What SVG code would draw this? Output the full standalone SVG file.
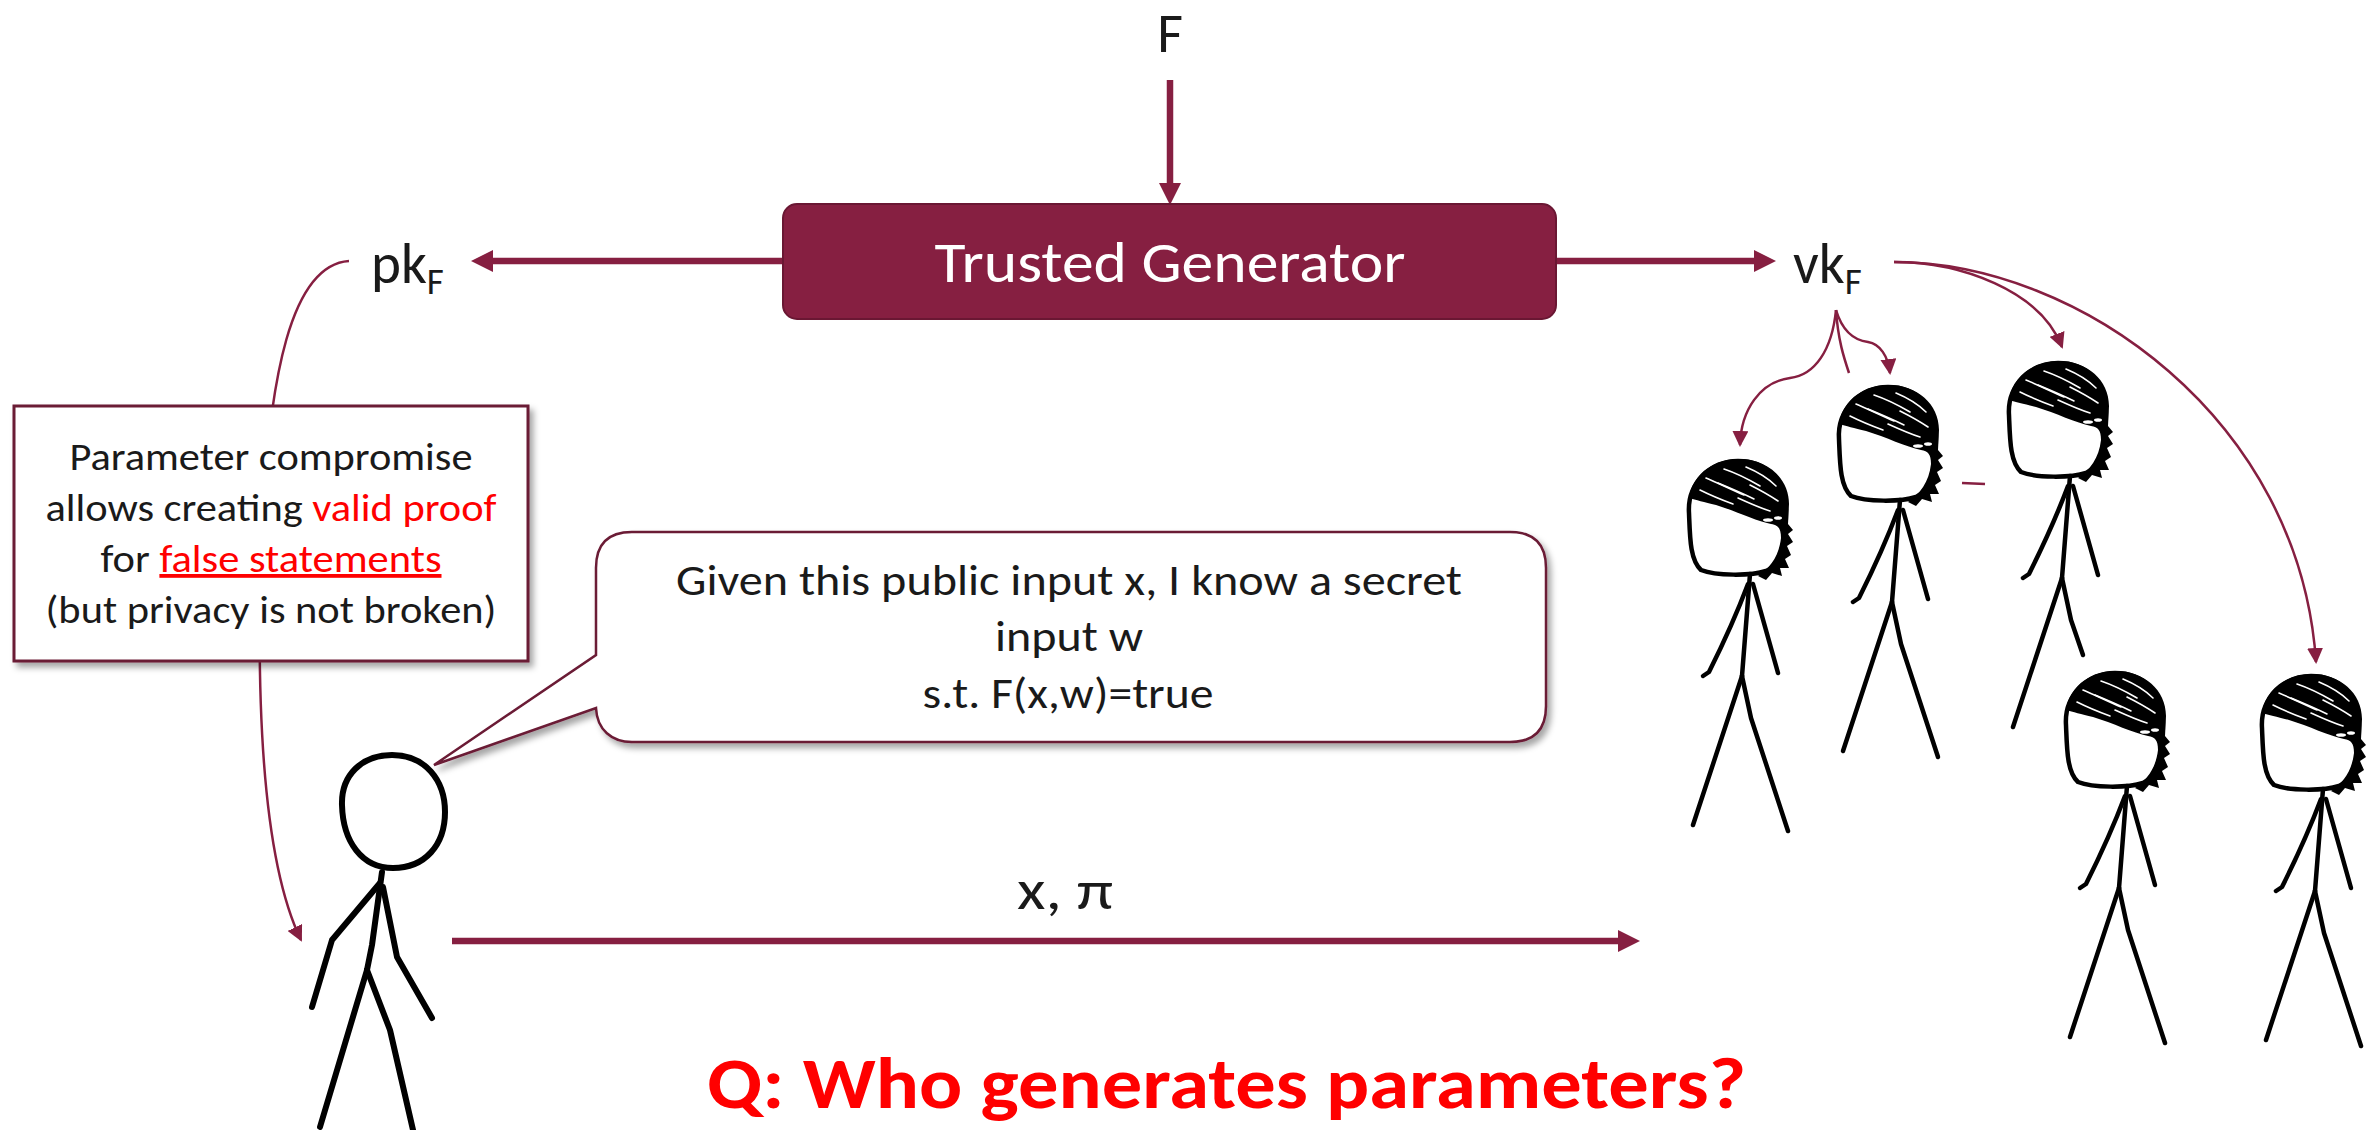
<svg xmlns="http://www.w3.org/2000/svg" xmlns:xlink="http://www.w3.org/1999/xlink" width="2374" height="1130" viewBox="0 0 2374 1130">
  <style>
    .txt { font-family: Carlito, Lato, "Liberation Sans", sans-serif; fill: #1a1a1a; }
    .red { fill: #ff0000; }
    .thick { stroke: #861f41; stroke-width: 6.5; fill: none; }
    .thin { stroke: #861f41; stroke-width: 2.5; fill: none; }
    .ink { stroke: #000; fill: none; stroke-linecap: round; stroke-linejoin: round; }
    .streak { stroke: #fff; stroke-width: 1.6; fill: none; stroke-linecap: round; }
  </style>
  <defs>
    <marker id="head-thick" markerUnits="userSpaceOnUse" markerWidth="22" markerHeight="22" refX="0" refY="11" orient="auto">
      <path d="M0,0 L22,11 L0,22 Z" fill="#861f41"/>
    </marker>
    <marker id="head-thin" markerUnits="userSpaceOnUse" markerWidth="16" markerHeight="16" refX="14" refY="8" orient="auto">
      <path d="M0,0 L16,8 L0,16 Z" fill="#861f41"/>
    </marker>
    <filter id="shadow" x="-5%" y="-5%" width="115%" height="125%">
      <feDropShadow dx="4" dy="5" stdDeviation="3" flood-color="#000" flood-opacity="0.35"/>
    </filter>
    <!-- stick figure with hair, origin at the centre of the head -->
    <g id="guy-upper">
      <path class="ink" stroke-width="4.5" d="M-47,-5 C-49,-35 -25,-57 2,-57 C30,-57 50,-38 50,-8 C50,20 46,46 30,53 C15,58 -20,58 -35,52 C-46,42 -46,20 -47,-5 Z" fill="#fff"/>
      <path fill="#000" d="M-47,-20 C-43,-46 -20,-59 3,-59 C31,-59 53,-40 53,-14 L52,6 L57,12 L52,16 L57,24 L51,28 L55,37 L49,41 L53,50 L44,50 L46,58 L36,55 L30,62 L22,58 C34,50 43,38 45,20 C45,10 42,7 35,6 C20,3 0,-7 -20,-13 C-32,-16 -40,-18 -47,-20 Z"/>
      <path class="streak" d="M-30,-40 C-18,-35 -6,-29 8,-23"/>
      <path class="streak" d="M-12,-49 C0,-45 12,-39 24,-32"/>
      <path class="streak" d="M-36,-28 C-26,-23 -14,-18 -3,-14"/>
      <path class="streak" d="M2,-20 C13,-15 24,-10 34,-7"/>
      <path class="streak" d="M10,-51 C22,-46 32,-40 40,-32"/>
      <path class="streak" d="M-18,-35 C-6,-30 6,-25 18,-19"/>
      <path class="streak" d="M14,-33 C24,-28 33,-23 42,-17"/>
      <ellipse cx="32" cy="2" rx="5" ry="1.8" fill="#fff"/>
      <ellipse cx="42" cy="0" rx="4" ry="1.8" fill="#fff"/>
      <path class="ink" stroke-width="4.5" d="M14,56 L6,158"/>
      <path class="ink" stroke-width="4.5" d="M12,66 C0,98 -14,128 -27,154 L-33,158"/>
      <path class="ink" stroke-width="4.5" d="M17,66 L42,155"/>
    </g>
    <g id="leg-left"><path class="ink" stroke-width="4.5" d="M6,158 L-43,307"/></g>
    <g id="leg-right"><path class="ink" stroke-width="4.5" d="M6,158 L15,200 L52,313"/></g>
    <g id="guy">
      <use href="#guy-upper"/>
      <use href="#leg-left"/>
      <use href="#leg-right"/>
    </g>
  </defs>

  <rect width="2374" height="1130" fill="#fff"/>

  <!-- connectors -->
  <g id="connectors">
    <line class="thick" stroke-width="5" x1="1170" y1="80" x2="1170" y2="183" marker-end="url(#head-thick)"/>
    <line class="thick" x1="783" y1="261" x2="493" y2="261" marker-end="url(#head-thick)"/>
    <line class="thick" x1="1556" y1="261" x2="1754" y2="261" marker-end="url(#head-thick)"/>
    <line class="thick" x1="452" y1="941" x2="1618" y2="941" marker-end="url(#head-thick)"/>
    <path class="thin" d="M349,261 C290,265 270,380 262,520 C255,700 262,860 301,940" marker-end="url(#head-thin)"/>
    <path class="thin" d="M1836,310 C1832,350 1815,375 1790,378 C1760,382 1741,410 1740,445" marker-end="url(#head-thin)"/>
    <path class="thin" d="M1836,310 C1838,340 1844,358 1849,373"/>
    <path class="thin" d="M1836,310 C1842,330 1852,340 1868,342 C1880,344 1888,356 1890,373" marker-end="url(#head-thin)"/>
    <path class="thin" d="M1894,262 C1960,262 2040,290 2062,347" marker-end="url(#head-thin)"/>
    <path class="thin" d="M1894,262 C2080,262 2300,420 2316,662" marker-end="url(#head-thin)"/>
    <path class="thin" d="M1962,483 L1985,484"/>
  </g>

  <!-- function input -->
  <g id="label-f">
    <text class="txt" x="1170" y="52" font-size="56" text-anchor="middle">F</text>
  </g>

  <!-- generator -->
  <g id="trusted-generator">
    <rect x="783" y="204" width="773" height="115" rx="14" fill="#861f41" stroke="#6a1733" stroke-width="2"/>
    <text class="txt" x="1170" y="282" font-size="57" text-anchor="middle" textLength="471" lengthAdjust="spacingAndGlyphs" style="fill:#fff">Trusted Generator</text>
  </g>

  <!-- keys -->
  <g id="proving-key">
    <text class="txt" x="371" y="283" font-size="57">pk<tspan font-size="37" dy="11">F</tspan></text>
  </g>
  <g id="verification-key">
    <text class="txt" x="1793" y="283" font-size="57">vk<tspan font-size="37" dy="11">F</tspan></text>
  </g>

  <!-- warning note -->
  <g id="compromise-note">
    <rect x="14" y="406" width="514" height="255" fill="#fff" stroke="#6b1a35" stroke-width="3" filter="url(#shadow)"/>
    <text class="txt" x="271" y="470" font-size="38" text-anchor="middle" textLength="403" lengthAdjust="spacingAndGlyphs">Parameter compromise</text>
    <text class="txt" x="271" y="521" font-size="38" text-anchor="middle" textLength="451" lengthAdjust="spacingAndGlyphs">allows creating <tspan class="red">valid proof</tspan></text>
    <text class="txt" x="271" y="572" font-size="38" text-anchor="middle" textLength="341" lengthAdjust="spacingAndGlyphs">for <tspan class="red" text-decoration="underline">false statements</tspan></text>
    <text class="txt" x="271" y="623" font-size="38" text-anchor="middle" textLength="451" lengthAdjust="spacingAndGlyphs">(but privacy is not broken)</text>
  </g>

  <!-- speech bubble -->
  <g id="claim-bubble">
    <path d="M632,532 H1510 Q1546,532 1546,568 V706 Q1546,742 1510,742 H632 C612,742 597,730 596,708 L434,765 L596,655 V568 Q596,532 632,532 Z" fill="#fff" stroke="#6b1a35" stroke-width="2.5" filter="url(#shadow)"/>
    <text class="txt" x="1069" y="595" font-size="43" text-anchor="middle" textLength="786" lengthAdjust="spacingAndGlyphs">Given this public input x, I know a secret</text>
    <text class="txt" x="1069" y="651" font-size="43" text-anchor="middle" textLength="148" lengthAdjust="spacingAndGlyphs">input w</text>
    <text class="txt" x="1068" y="708" font-size="43" text-anchor="middle" textLength="291" lengthAdjust="spacingAndGlyphs">s.t. F(x,w)=true</text>
  </g>

  <!-- prover -->
  <g id="prover" class="ink" stroke-width="6">
    <path d="M342,805 C341,775 362,755 392,755 C425,755 445,780 445,812 C445,845 425,868 393,868 C362,868 343,842 342,805 Z" fill="#fff"/>
    <path d="M382,872 L372,945 L367,970"/>
    <path d="M380,883 L332,940 L312,1007"/>
    <path d="M383,887 L397,957 L432,1018"/>
    <path d="M367,970 L320,1127"/>
    <path d="M367,970 L390,1030 L413,1130"/>
  </g>

  <!-- proof label -->
  <g id="label-proof">
    <text class="txt" x="1065" y="909" font-size="56" text-anchor="middle" textLength="96" lengthAdjust="spacingAndGlyphs">x, π</text>
  </g>

  <!-- verifiers -->
  <g id="verifier-a"><use href="#guy" transform="translate(1736,518)"/></g>
  <g id="verifier-b"><use href="#guy" transform="translate(1886,444)"/></g>
  <g id="verifier-c">
    <use href="#guy-upper" transform="translate(2056,420)"/>
    <use href="#leg-left" transform="translate(2056,420)"/>
    <path class="ink" stroke-width="4.5" d="M2062,578 L2071,620 L2083,655"/>
  </g>
  <g id="verifier-d"><use href="#guy" transform="translate(2113,730)"/></g>
  <g id="verifier-e"><use href="#guy" transform="translate(2309,733)"/></g>

  <!-- question -->
  <g id="question">
    <text class="txt red" x="707" y="1108" font-size="72" font-weight="bold" textLength="1039" lengthAdjust="spacingAndGlyphs">Q: Who generates parameters?</text>
  </g>
</svg>
